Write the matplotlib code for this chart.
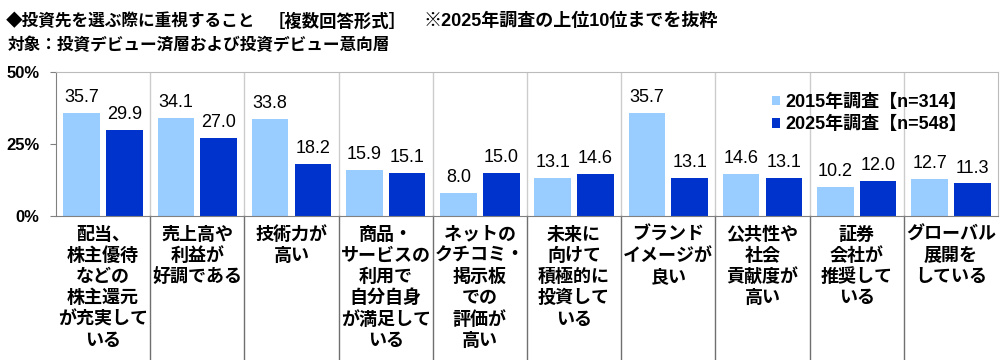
import matplotlib.pyplot as plt
import numpy as np

plt.rcParams['font.family'] = ['Liberation Sans', 'Noto Sans CJK JP', 'DejaVu Sans']

# データ
categories = [
    '配当、\n株主優待\nなどの\n株主還元\nが充実して\nいる',
    '売上高や\n利益が\n好調である',
    '技術力が\n高い',
    '商品・\nサービスの\n利用で\n自分自身\nが満足して\nいる',
    'ネットの\nクチコミ・\n掲示板\nでの\n評価が\n高い',
    '未来に\n向けて\n積極的に\n投資して\nいる',
    'ブランド\nイメージが\n良い',
    '公共性や\n社会\n貢献度が\n高い',
    '証券\n会社が\n推奨して\nいる',
    'グローバル\n展開を\nしている',
]
v2015 = [35.7, 34.1, 33.8, 15.9, 8.0, 13.1, 35.7, 14.6, 10.2, 12.7]
v2025 = [29.9, 27.0, 18.2, 15.1, 15.0, 14.6, 13.1, 13.1, 12.0, 11.3]
label2015 = '2015年調査【n=314】'
label2025 = '2025年調査【n=548】'
yticks = [0, 25, 50]
ytick_labels = ['0%', '25%', '50%']

c_light = '#99CCFF'
c_dark = '#0033CC'
jp = ['Noto Sans CJK JP', 'DejaVu Sans']
mix = ['Liberation Sans', 'Noto Sans CJK JP', 'DejaVu Sans']

fig = plt.figure(figsize=(10, 3.6), dpi=100)
ax = fig.add_axes([0.056, 0.4, 0.942, 0.4])

x = np.arange(len(categories))
w = 0.39
off = 0.227
b1 = ax.bar(x - off, v2015, w, color=c_light, label=label2015)
b2 = ax.bar(x + off, v2025, w, color=c_dark, label=label2025)

for bars, vals in ((b1, v2015), (b2, v2025)):
    for b, v in zip(bars, vals):
        ax.annotate(f'{v:.1f}', (b.get_x() + b.get_width() / 2, v),
                    xytext=(0, 5), textcoords='offset points',
                    ha='center', va='bottom', fontsize=13)

ax.set_xlim(-0.5, len(categories) - 0.5)
ax.set_ylim(0, 50)
ax.set_yticks(yticks)
ax.set_yticklabels(ytick_labels, fontsize=12, fontweight='bold')
ax.tick_params(axis='y', length=4, color='#808080', pad=8)
ax.set_xticks([])

for s in ['top', 'right']:
    ax.spines[s].set_color('#BBBBBB')
for s in ['left', 'bottom']:
    ax.spines[s].set_color('#808080')

# 区切り線
trans = ax.get_xaxis_transform()
for i in range(1, len(categories)):
    ax.plot([i - 0.5, i - 0.5], [0, 1], transform=trans, color='#CCCCCC', lw=1)
    ax.plot([i - 0.5, i - 0.5], [0, -0.99], transform=trans, color='#707070',
            lw=1, clip_on=False)

for i, c in enumerate(categories):
    ax.text(i, -0.06, c, transform=trans, ha='center', va='top', fontsize=13,
            fontweight='bold', family=jp, linespacing=1.15)

ax.legend(loc='upper left', bbox_to_anchor=(0.756, 0.785),
          bbox_transform=fig.transFigure, frameon=False,
          handlelength=0.45, handleheight=0.45, handletextpad=0.25,
          labelspacing=0.3, prop={'family': mix, 'size': 13, 'weight': 'bold'})

# タイトル
fig.text(0.006, 0.94, '◆投資先を選ぶ際に重視すること',
         fontsize=12, fontweight='bold', family=jp, va='center')
fig.text(0.268, 0.94, '［複数回答形式］',
         fontsize=12.5, fontweight='bold', family=jp, va='center')
fig.text(0.424, 0.94, '※2025年調査の上位10位までを抜粋',
         fontsize=13, fontweight='bold', family=mix, va='center')
fig.text(0.008, 0.875, '対象：投資デビュー済層および投資デビュー意向層',
         fontsize=12, fontweight='bold', family=jp, va='center')

fig.savefig('out.png')
